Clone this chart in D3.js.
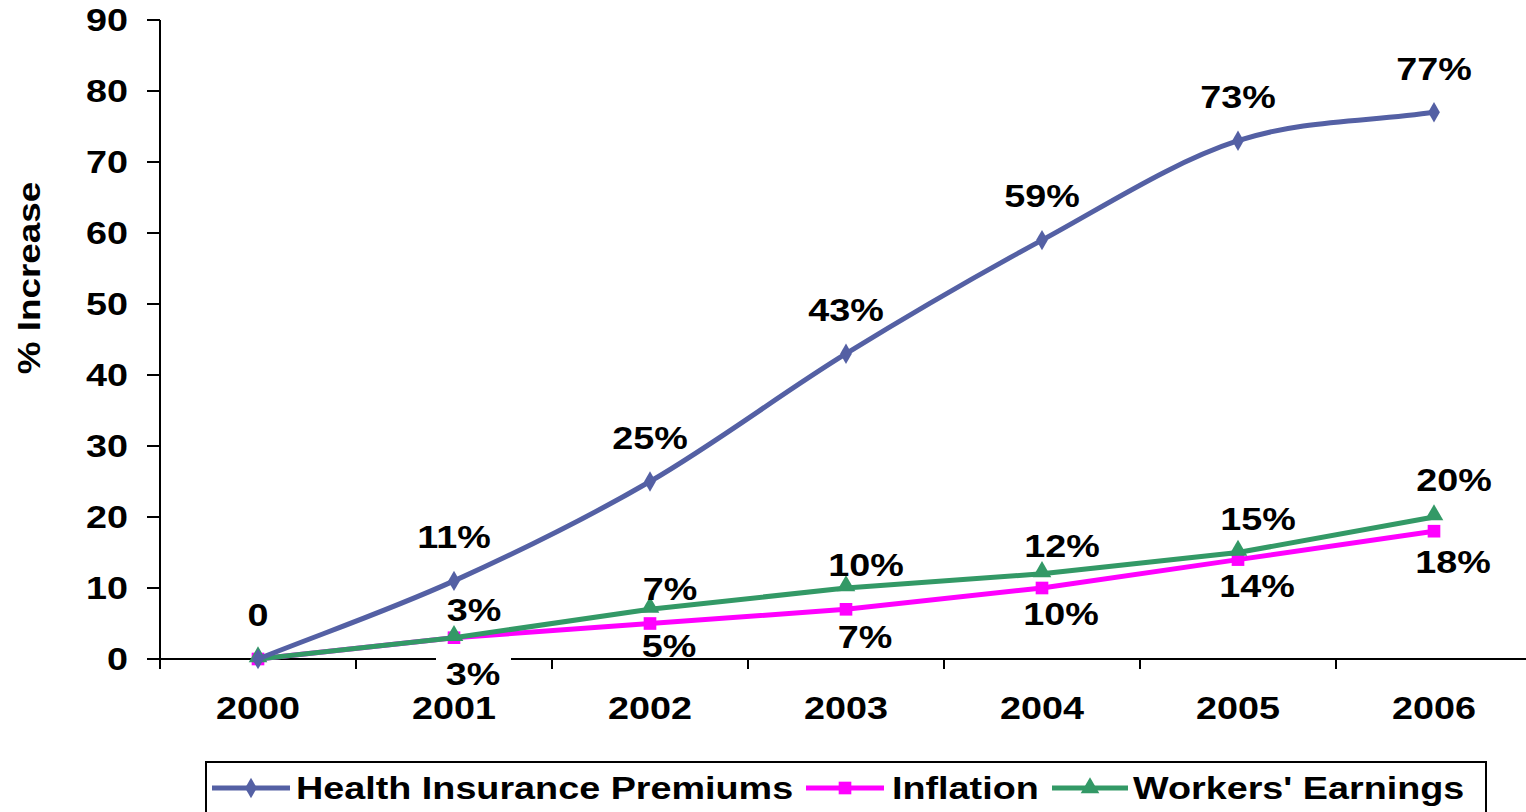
<!DOCTYPE html>
<html>
<head>
<meta charset="utf-8">
<script src="https://cdn.jsdelivr.net/npm/d3@7"></script>
<style>
  body { margin: 0; background: #fff; }
  svg text { font-family: "Liberation Sans", Arial, sans-serif; font-weight: bold; fill: #000; }
</style>
</head>
<body>
<div id="chart"></div>
<script>
var years = ["2000", "2001", "2002", "2003", "2004", "2005", "2006"]
var health = [0, 11, 25, 43, 59, 73, 77]
var inflation = [0, 3, 5, 7, 10, 14, 18]
var earnings = [0, 3, 7, 10, 12, 15, 20]
var healthLabels = ["0", "11%", "25%", "43%", "59%", "73%", "77%"]
var inflationLabels = ["", "3%", "5%", "7%", "10%", "14%", "18%"]
var earningsLabels = ["", "3%", "7%", "10%", "12%", "15%", "20%"]
var yTicks = [0, 10, 20, 30, 40, 50, 60, 70, 80, 90]

// label nudges (layout only)
var inflationDy = [0, 36, 22, 27, 26, 26, 31]
var earningsDy = [0, -28, -21, -23, -28, -34, -37]

var width = 1526
var height = 812
var fontSize = 32
var stretch = 1.18

var x = d3.scaleBand().domain(years).range([160, 1532])
var y = d3.scaleLinear().domain([0, 90]).range([659, 20])

var svg = d3.select("#chart").append("svg")
  .attr("width", width)
  .attr("height", height)

function stretchedText(g, tx, ty, txt, anchor) {
  return g.append("text")
    .attr("transform", "translate(" + tx + "," + ty + ") scale(" + stretch + ",1)")
    .attr("text-anchor", anchor || "middle")
    .attr("dy", "0.35em")
    .style("font-size", fontSize + "px")
    .text(txt)
}

// excel-like smoothed line: catmull-rom inside, full tangent at the ends
function smoothPath(pts) {
  var p = d3.path()
  var n = pts.length
  var tan = pts.map(function (q, i) {
    var a = pts[Math.max(i - 1, 0)], b = pts[Math.min(i + 1, n - 1)]
    var f = (i === 0 || i === n - 1) ? 1 : 0.5
    return [(b[0] - a[0]) * f, (b[1] - a[1]) * f]
  })
  p.moveTo(pts[0][0], pts[0][1])
  for (var i = 0; i < n - 1; i++) {
    p.bezierCurveTo(
      pts[i][0] + tan[i][0] / 3, pts[i][1] + tan[i][1] / 3,
      pts[i + 1][0] - tan[i + 1][0] / 3, pts[i + 1][1] - tan[i + 1][1] / 3,
      pts[i + 1][0], pts[i + 1][1])
  }
  return p.toString()
}

// y axis
var yAxis = svg.append("g")
yAxis.append("line")
  .attr("x1", 160).attr("x2", 160)
  .attr("y1", y(90)).attr("y2", y(0))
  .attr("stroke", "#000").attr("stroke-width", 2)
yTicks.forEach(function (t) {
  yAxis.append("line")
    .attr("x1", 147).attr("x2", 160)
    .attr("y1", y(t)).attr("y2", y(t))
    .attr("stroke", "#000").attr("stroke-width", 2)
  stretchedText(yAxis, 128, y(t), t, "end")
})

// x axis
var xAxis = svg.append("g")
xAxis.append("line")
  .attr("x1", 160).attr("x2", width)
  .attr("y1", y(0)).attr("y2", y(0))
  .attr("stroke", "#000").attr("stroke-width", 2)
years.forEach(function (yr) {
  xAxis.append("line")
    .attr("x1", x(yr)).attr("x2", x(yr))
    .attr("y1", y(0)).attr("y2", y(0) + 10)
    .attr("stroke", "#000").attr("stroke-width", 2)
  stretchedText(xAxis, x(yr) + x.bandwidth() / 2, 708, yr)
})

// axis title
svg.append("text")
  .attr("transform", "translate(29,278) rotate(-90) scale(1.19,1)")
  .attr("text-anchor", "middle")
  .attr("dy", "0.35em")
  .style("font-size", "31px")
  .text("% Increase")

var cx = function (d, i) { return x(years[i]) + x.bandwidth() / 2 }

var series = [
  { name: "Health Insurance Premiums", values: health, color: "#5460A4", marker: d3.symbolDiamond, msize: 120, smooth: true },
  { name: "Inflation", values: inflation, color: "#FF00FF", marker: d3.symbolSquare, msize: 160, smooth: false },
  { name: "Workers' Earnings", values: earnings, color: "#339966", marker: d3.symbolTriangle, msize: 150, smooth: false }
]

// draw inflation first, then earnings, then health on top
var order = [1, 2, 0]
order.forEach(function (k) {
  var s = series[k]
  var pts = s.values.map(function (d, i) { return [cx(d, i), y(d)] })
  var line = d3.line()
  svg.append("path")
    .attr("d", s.smooth ? smoothPath(pts) : line(pts))
    .attr("fill", "none")
    .attr("stroke", s.color)
    .attr("stroke-width", 5)
  svg.append("g").selectAll("path")
    .data(s.values)
    .enter()
    .append("path")
    .attr("d", d3.symbol().type(s.marker).size(s.msize))
    .attr("transform", function (d, i) {
      var ty = y(d)
      if (s.marker === d3.symbolTriangle) ty -= 2
      return "translate(" + cx(d, i) + "," + ty + ")"
    })
    .attr("fill", s.color)
})

// data labels
var labels = svg.append("g")
health.forEach(function (v, i) {
  stretchedText(labels, cx(v, i), y(v) - 44, healthLabels[i])
})
earnings.forEach(function (v, i) {
  if (!earningsLabels[i]) return
  stretchedText(labels, cx(v, i) + 20, y(v) + earningsDy[i], earningsLabels[i])
})
inflation.forEach(function (v, i) {
  if (!inflationLabels[i]) return
  var lx = cx(v, i) + 19
  var ly = y(v) + inflationDy[i]
  if (i === 1) {
    labels.append("rect")
      .attr("x", lx - 37).attr("y", ly - 17)
      .attr("width", 75).attr("height", 34)
      .attr("fill", "#fff")
  }
  stretchedText(labels, lx, ly, inflationLabels[i])
})

// legend
var legend = svg.append("g")
legend.append("rect")
  .attr("x", 206).attr("y", 762)
  .attr("width", 1280).attr("height", 60)
  .attr("fill", "#fff")
  .attr("stroke", "#000").attr("stroke-width", 2)
var legendX = [[212, 290, 296], [806, 884, 892], [1052, 1128, 1133]]
series.forEach(function (s, k) {
  var lx = legendX[k]
  var ly = 788
  legend.append("line")
    .attr("x1", lx[0]).attr("x2", lx[1])
    .attr("y1", ly).attr("y2", ly)
    .attr("stroke", s.color).attr("stroke-width", 5)
  legend.append("path")
    .attr("d", d3.symbol().type(s.marker).size(s.msize))
    .attr("transform", "translate(" + ((lx[0] + lx[1]) / 2) + "," + ly + ")")
    .attr("fill", s.color)
  stretchedText(legend, lx[2], ly, s.name, "start")
})
</script>
</body>
</html>
